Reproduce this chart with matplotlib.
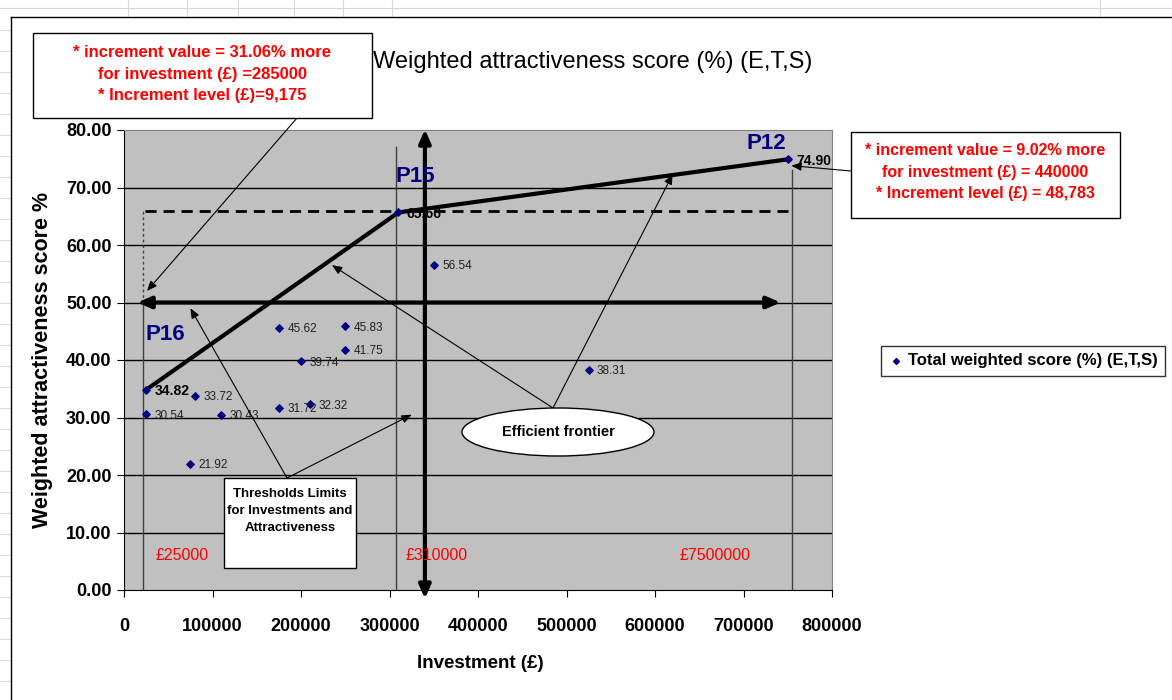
import matplotlib
matplotlib.use('Agg')
import matplotlib.pyplot as plt
from matplotlib.patches import Rectangle, Ellipse
from matplotlib.lines import Line2D

plt.rcParams['font.family'] = ['Liberation Sans', 'DejaVu Sans']

# data
investment = [25000, 25000, 80000, 110000, 75000, 175000, 175000, 200000,
              210000, 250000, 250000, 310000, 350000, 525000, 750000]
score = [34.82, 30.54, 33.72, 30.43, 21.92, 45.62, 31.72, 39.74,
         32.32, 45.83, 41.75, 65.66, 56.54, 38.31, 74.90]
bold_labels = [34.82, 65.66, 74.90]

frontier_x = [25000, 310000, 750000]
frontier_y = [34.82, 65.66, 74.90]
frontier_names = ['P16', 'P15', 'P12']

limit_x = [25000, 310000, 750000]
limit_txt = ['£25000', '£310000', '£7500000']

W, H = 1172, 700
fig = plt.figure(figsize=(W / 100, H / 100), dpi=100)
fig.patch.set_facecolor('white')


def fp(x, y):
    # pixel (from top-left) -> figure fraction
    return (x / W, 1 - y / H)


# spreadsheet background lines
for xx in [128, 187, 238, 294, 343, 392, 1100]:
    fig.add_artist(Line2D([xx / W, xx / W], [1 - 0 / H, 1 - 17 / H], color='#d8d8d8', lw=0.8))
fig.add_artist(Line2D([0, 1], [1 - 8 / H, 1 - 8 / H], color='#d8d8d8', lw=0.8))
for yy in range(30, 700, 21):
    fig.add_artist(Line2D([0, 10 / W], [1 - yy / H, 1 - yy / H], color='#dcdcdc', lw=0.8))
# chart area border
fig.add_artist(Line2D([11 / W, 1], [1 - 17 / H, 1 - 17 / H], color='black', lw=1))
fig.add_artist(Line2D([11 / W, 11 / W], [0, 1 - 17 / H], color='black', lw=1))

ax = fig.add_axes([124 / W, 1 - 590 / H, (832 - 124) / W, (590 - 130) / H])
ax.set_facecolor('#c0c0c0')
ax.set_xlim(0, 800000)
ax.set_ylim(0, 80)
ax.set_yticks(range(0, 81, 10))
ax.set_yticklabels(['%.2f' % v for v in range(0, 81, 10)], fontsize=13, fontweight='bold')
ax.set_xticks(range(0, 800001, 100000))
ax.set_xticklabels([str(v) for v in range(0, 800001, 100000)], fontsize=13, fontweight='bold')
ax.tick_params(axis='x', direction='out', length=5, pad=15)
ax.tick_params(axis='y', direction='out', length=5, pad=4)
for yv in range(10, 80, 10):
    ax.axhline(yv, color='black', lw=1, zorder=1)
for s in ['top', 'right']:
    ax.spines[s].set_color('#808080')
ax.spines['left'].set_color('black')
ax.spines['bottom'].set_color('black')

# threshold vertical lines
ax.plot([22000, 22000], [0, 50], color='#404040', lw=1, zorder=2)
ax.plot([22000, 22000], [50, 66], color='#404040', lw=1, ls=(0, (2, 2)), zorder=2)
ax.plot([307000, 307000], [0, 77], color='#404040', lw=1, zorder=2)
ax.plot([755000, 755000], [0, 73], color='#404040', lw=1, zorder=2)
ax.plot([24000, 756000], [66, 66], color='black', lw=2, ls=(0, (4, 2.5)), zorder=2)

# thick axes arrows
ax.annotate('', xy=(12000, 50), xytext=(745000, 50),
            arrowprops=dict(arrowstyle='<|-|>,head_length=0.8,head_width=0.35', color='black', lw=3),
            zorder=3)
ax.annotate('', xy=(340000, -2), xytext=(340000, 80.6),
            arrowprops=dict(arrowstyle='<|-|>,head_length=0.8,head_width=0.35', color='black', lw=3),
            zorder=3, annotation_clip=False)

# efficient frontier
ax.plot(frontier_x, frontier_y, color='black', lw=3, zorder=4)

sc = ax.scatter(investment, score, marker='D', s=14, color='#000080', zorder=5,
                label='Total weighted score (%) (E,T,S)')
for xv, yv in zip(investment, score):
    if yv in bold_labels:
        ax.annotate('%.2f' % yv, (xv, yv), xytext=(6, -1), textcoords='offset points',
                    fontsize=10, fontweight='bold', va='center', color='black', zorder=6)
    else:
        ax.annotate('%.2f' % yv, (xv, yv), xytext=(6, -1), textcoords='offset points',
                    fontsize=8.5, va='center', color='#202020', zorder=6)

for xv, yv, nm, off in zip(frontier_x, frontier_y, frontier_names, [(19, 55), (17, 36), (-21, 16)]):
    ax.annotate(nm, (xv, yv), xytext=off, textcoords='offset pixels', fontsize=16,
                fontweight='bold', color='#000080', ha='center', va='center', zorder=6)

for xv, t, dx in zip(limit_x, limit_txt, [36, 38, -73]):
    ax.annotate(t, (xv, 0), xytext=(dx, 34), textcoords='offset pixels',
                fontsize=11.5, color='red', ha='center', va='center', zorder=6)

# legend
leg = fig.legend(handles=[sc], loc='center', bbox_to_anchor=(1023 / W, 1 - 361 / H),
                 frameon=True, fancybox=False, edgecolor='black',
                 prop={'weight': 'bold', 'size': 12}, handletextpad=0.2, markerscale=0.8,
                 borderpad=0.45, handlelength=1.0)
leg.get_frame().set_linewidth(1)

# title and axis labels
fig.text(*fp(593, 62), 'Weighted attractiveness score (%) (E,T,S)', fontsize=17,
         ha='center', va='center')
fig.text(*fp(43, 360), 'Weighted attractiveness score %', fontsize=15.5, fontweight='bold',
         rotation=90, ha='center', va='center')
fig.text(*fp(480, 663), 'Investment (£)', fontsize=13.5, fontweight='bold', ha='center', va='center')

# red info boxes
fig.add_artist(Rectangle(fp(33, 118), 339 / W, 85 / H, transform=fig.transFigure,
                         facecolor='white', edgecolor='black', lw=1))
fig.text(*fp(202, 74), '* increment value = 31.06% more\nfor investment (£) =285000\n* Increment level (£)=9,175',
         color='red', fontsize=12, fontweight='bold', ha='center', va='center', linespacing=1.55)
fig.add_artist(Rectangle(fp(851, 218), 269 / W, 86 / H, transform=fig.transFigure,
                         facecolor='white', edgecolor='black', lw=1))
fig.text(*fp(985, 172), '* increment value = 9.02% more\nfor investment (£) = 440000\n* Increment level (£) = 48,783',
         color='red', fontsize=11.5, fontweight='bold', ha='center', va='center', linespacing=1.55)

# callout arrows from info boxes
arr = dict(arrowstyle='-|>,head_length=0.6,head_width=0.25', color='black', lw=0.8, shrinkA=0, shrinkB=0)
ax.annotate('', xy=(26000, 52), xytext=fp(297, 118), textcoords='figure fraction',
            arrowprops=arr, annotation_clip=False)
ax.annotate('', xy=(754000, 73.8), xytext=fp(851, 171), textcoords='figure fraction',
            arrowprops=arr, annotation_clip=False)

# efficient frontier ellipse
ax.add_patch(Ellipse(fp(558, 432), 192 / W, 48 / H, transform=fig.transFigure,
                     facecolor='white', edgecolor='black', lw=1, zorder=7))
ax.text(*fp(558, 432), 'Efficient frontier', transform=fig.transFigure, fontsize=10.5,
        fontweight='bold', ha='center', va='center', zorder=8)
for tgt in [(235000, 56.5), (620000, 72.3)]:
    ax.annotate('', xy=tgt, xytext=fp(553, 408), textcoords='figure fraction',
                arrowprops=arr, zorder=6)

# thresholds box
ax.add_patch(Rectangle(fp(224, 568), 132 / W, 90 / H, transform=fig.transFigure,
                       facecolor='white', edgecolor='black', lw=1, zorder=7))
ax.text(*fp(290, 511), 'Thresholds Limits\nfor Investments and\nAttractiveness', transform=fig.transFigure,
        fontsize=9.5, fontweight='bold', ha='center', va='center', linespacing=1.55, zorder=8)
for tgt in [(75000, 49), (325000, 30.5)]:
    ax.annotate('', xy=tgt, xytext=fp(287, 478), textcoords='figure fraction',
                arrowprops=arr, zorder=6)

fig.savefig('out.png', dpi=100)
